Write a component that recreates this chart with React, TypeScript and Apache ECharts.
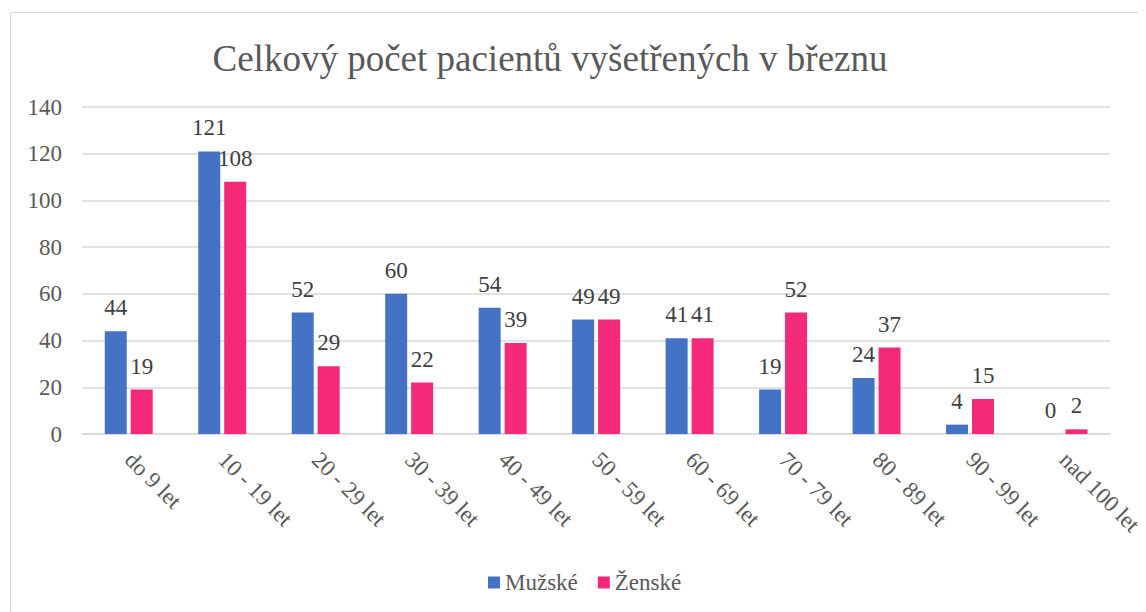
import React, { useEffect, useRef } from "react";
import * as echarts from "echarts";

const categories = ["do 9 let", "10 - 19 let", "20 - 29 let", "30 - 39 let", "40 - 49 let", "50 - 59 let", "60 - 69 let", "70 - 79 let", "80 - 89 let", "90 - 99 let", "nad 100 let"];
const muzske = [44, 121, 52, 60, 54, 49, 41, 19, 24, 4, 0];
const zenske = [19, 108, 29, 22, 39, 49, 41, 52, 37, 15, 2];
const titleText = "Celkový počet pacientů vyšetřených v březnu";
const seriesNames = ["Mužské", "Ženské"];

const FONT = "'Liberation Serif', 'Times New Roman', serif";

export default function App() {
  const ref = useRef<HTMLDivElement>(null);
  useEffect(() => {
    if (!ref.current) return;
    const chart = echarts.init(ref.current, null, { renderer: "svg" });
    const labelStyle = {
      show: true,
      position: "top" as const,
      distance: 12,
      fontFamily: FONT,
      fontSize: 23,
      color: "#404040",
    };
    chart.setOption({
      animation: false,
      textStyle: { fontFamily: FONT },
      title: {
        text: titleText,
        left: 537,
        top: 27,
        textAlign: "center",
        textStyle: { fontFamily: FONT, fontSize: 37, fontWeight: "normal", color: "#595959" },
      },
      graphic: [
        {
          type: "rect",
          left: 0,
          top: 2,
          shape: { width: 1150, height: 610 },
          style: { fill: "none", stroke: "#d9d9d9", lineWidth: 1 },
          silent: true,
        },
      ],
      legend: {
        bottom: 13,
        left: 475,
        itemWidth: 12,
        itemHeight: 12,
        itemGap: 20,
        icon: "rect",
        textStyle: { fontFamily: FONT, fontSize: 23, color: "#595959" },
        data: seriesNames,
      },
      grid: { left: 74, right: 35, top: 99, bottom: 178, containLabel: false },
      xAxis: {
        type: "category",
        data: categories,
        axisLine: { lineStyle: { color: "#d9d9d9", width: 1.5 } },
        axisTick: { show: false },
        axisLabel: {
          rotate: -45,
          interval: 0,
          margin: 22,
          fontFamily: FONT,
          fontSize: 23,
          color: "#595959",
        },
      },
      yAxis: {
        type: "value",
        min: 0,
        max: 140,
        interval: 20,
        axisLine: { show: false },
        axisTick: { show: false },
        splitLine: { lineStyle: { color: "#d9d9d9", width: 1.5 } },
        axisLabel: { fontFamily: FONT, fontSize: 23, color: "#595959", margin: 20 },
      },
      series: [
        {
          name: seriesNames[0],
          type: "bar",
          data: muzske,
          barWidth: 22,
          barGap: "18%",
          itemStyle: { color: "#4472c4" },
          label: labelStyle,
        },
        {
          name: seriesNames[1],
          type: "bar",
          data: zenske,
          barWidth: 22,
          itemStyle: { color: "#f4297a" },
          label: labelStyle,
        },
      ],
    });
    return () => chart.dispose();
  }, []);
  return <div ref={ref} style={{ width: 1138, height: 604 }} />;
}
